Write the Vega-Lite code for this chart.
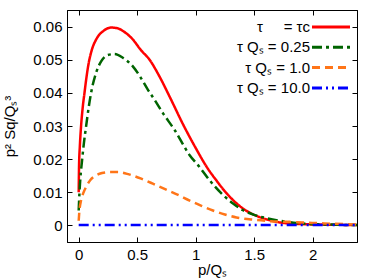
{
  "$schema": "https://vega.github.io/schema/vega-lite/v6.json",
  "width": 290,
  "height": 232,
  "autosize": {"type": "none"},
  "padding": {"left": 67, "top": 10, "right": 17, "bottom": 38},
  "config": {
    "font": "Liberation Sans",
    "view": {"stroke": "#000", "strokeWidth": 1},
    "axis": {"domainColor": "#000", "tickColor": "#000", "labelColor": "#000", "titleColor": "#000", "labelFont": "Liberation Sans", "titleFont": "Liberation Sans", "labelFontSize": 15, "titleFontSize": 15, "titleFontWeight": "normal", "grid": false, "tickSize": -5, "labelPadding": 10},
    "legend": {"title": null, "orient": "none", "legendX": 253, "legendY": 6, "symbolType": "M-2,0H2", "symbolSize": 361, "symbolStrokeWidth": 3, "labelAlign": "right", "labelOffset": -32, "rowPadding": 1.3, "labelFontSize": 15, "labelFont": "Liberation Sans", "labelColor": "#000", "labelLimit": 300, "padding": 0}
  },
  "datasets": {
    "curves": [
      {"p": 0, "v": 0.010, "s": "a"},
      {"p": 0.003, "v": 0.018, "s": "a"},
      {"p": 0.01, "v": 0.024, "s": "a"},
      {"p": 0.02, "v": 0.0298, "s": "a"},
      {"p": 0.035, "v": 0.0358, "s": "a"},
      {"p": 0.05, "v": 0.0401, "s": "a"},
      {"p": 0.065, "v": 0.0443, "s": "a"},
      {"p": 0.083, "v": 0.0485, "s": "a"},
      {"p": 0.111, "v": 0.0528, "s": "a"},
      {"p": 0.154, "v": 0.0564, "s": "a"},
      {"p": 0.212, "v": 0.0587, "s": "a"},
      {"p": 0.25, "v": 0.0595, "s": "a"},
      {"p": 0.283, "v": 0.0597, "s": "a"},
      {"p": 0.33, "v": 0.0595, "s": "a"},
      {"p": 0.39, "v": 0.0584, "s": "a"},
      {"p": 0.463, "v": 0.0561, "s": "a"},
      {"p": 0.53, "v": 0.053, "s": "a"},
      {"p": 0.606, "v": 0.050, "s": "a"},
      {"p": 0.69, "v": 0.045, "s": "a"},
      {"p": 0.777, "v": 0.0389, "s": "a"},
      {"p": 0.891, "v": 0.0306, "s": "a"},
      {"p": 1.0, "v": 0.0234, "s": "a"},
      {"p": 1.105, "v": 0.0171, "s": "a"},
      {"p": 1.177, "v": 0.0136, "s": "a"},
      {"p": 1.25, "v": 0.0103, "s": "a"},
      {"p": 1.349, "v": 0.0067, "s": "a"},
      {"p": 1.43, "v": 0.0045, "s": "a"},
      {"p": 1.52, "v": 0.0029, "s": "a"},
      {"p": 1.62, "v": 0.0017, "s": "a"},
      {"p": 1.72, "v": 0.0009, "s": "a"},
      {"p": 1.85, "v": 0.0005, "s": "a"},
      {"p": 2.0, "v": 0.0003, "s": "a"},
      {"p": 2.2, "v": 0.0002, "s": "a"},
      {"p": 2.4, "v": 0.0001, "s": "a"},

      {"p": 0, "v": 0.0045, "s": "b"},
      {"p": 0.006, "v": 0.0095, "s": "b"},
      {"p": 0.015, "v": 0.0145, "s": "b"},
      {"p": 0.029, "v": 0.0197, "s": "b"},
      {"p": 0.045, "v": 0.025, "s": "b"},
      {"p": 0.063, "v": 0.0298, "s": "b"},
      {"p": 0.085, "v": 0.0355, "s": "b"},
      {"p": 0.106, "v": 0.040, "s": "b"},
      {"p": 0.15, "v": 0.0462, "s": "b"},
      {"p": 0.192, "v": 0.0495, "s": "b"},
      {"p": 0.249, "v": 0.0514, "s": "b"},
      {"p": 0.306, "v": 0.0517, "s": "b"},
      {"p": 0.377, "v": 0.0506, "s": "b"},
      {"p": 0.463, "v": 0.048, "s": "b"},
      {"p": 0.52, "v": 0.0452, "s": "b"},
      {"p": 0.591, "v": 0.041, "s": "b"},
      {"p": 0.649, "v": 0.0379, "s": "b"},
      {"p": 0.72, "v": 0.0339, "s": "b"},
      {"p": 0.82, "v": 0.0288, "s": "b"},
      {"p": 0.949, "v": 0.0212, "s": "b"},
      {"p": 1.034, "v": 0.0176, "s": "b"},
      {"p": 1.12, "v": 0.0136, "s": "b"},
      {"p": 1.234, "v": 0.0092, "s": "b"},
      {"p": 1.32, "v": 0.0066, "s": "b"},
      {"p": 1.405, "v": 0.0046, "s": "b"},
      {"p": 1.5, "v": 0.0032, "s": "b"},
      {"p": 1.606, "v": 0.0022, "s": "b"},
      {"p": 1.777, "v": 0.0011, "s": "b"},
      {"p": 1.9, "v": 0.0006, "s": "b"},
      {"p": 2.1, "v": 0.0003, "s": "b"},
      {"p": 2.4, "v": 0.0001, "s": "b"},

      {"p": 0, "v": 0.0014, "s": "c"},
      {"p": 0.005, "v": 0.004, "s": "c"},
      {"p": 0.02, "v": 0.0075, "s": "c"},
      {"p": 0.04, "v": 0.0098, "s": "c"},
      {"p": 0.063, "v": 0.0116, "s": "c"},
      {"p": 0.1, "v": 0.0137, "s": "c"},
      {"p": 0.149, "v": 0.0151, "s": "c"},
      {"p": 0.2, "v": 0.0158, "s": "c"},
      {"p": 0.263, "v": 0.0161, "s": "c"},
      {"p": 0.334, "v": 0.0161, "s": "c"},
      {"p": 0.43, "v": 0.0154, "s": "c"},
      {"p": 0.535, "v": 0.0141, "s": "c"},
      {"p": 0.634, "v": 0.0126, "s": "c"},
      {"p": 0.734, "v": 0.011, "s": "c"},
      {"p": 0.85, "v": 0.0092, "s": "c"},
      {"p": 0.949, "v": 0.0075, "s": "c"},
      {"p": 1.05, "v": 0.0059, "s": "c"},
      {"p": 1.148, "v": 0.0045, "s": "c"},
      {"p": 1.25, "v": 0.0033, "s": "c"},
      {"p": 1.349, "v": 0.0024, "s": "c"},
      {"p": 1.5, "v": 0.0017, "s": "c"},
      {"p": 1.634, "v": 0.0013, "s": "c"},
      {"p": 1.78, "v": 0.0011, "s": "c"},
      {"p": 1.917, "v": 0.0009, "s": "c"},
      {"p": 2.1, "v": 0.0006, "s": "c"},
      {"p": 2.26, "v": 0.0004, "s": "c"},
      {"p": 2.4, "v": 0.0003, "s": "c"},

      {"p": 0, "v": 0.0001, "s": "d"},
      {"p": 0.5, "v": 0.0001, "s": "d"},
      {"p": 1.0, "v": 0.0001, "s": "d"},
      {"p": 1.5, "v": 0.0001, "s": "d"},
      {"p": 2.0, "v": 0.0001, "s": "d"},
      {"p": 2.4, "v": 0.0001, "s": "d"}
    ]
  },
  "data": {"name": "curves"},
  "layer": [
    {
      "mark": {"type": "line", "clip": true, "strokeWidth": 2.5, "interpolate": "monotone"},
      "encoding": {
        "x": {"field": "p", "type": "quantitative", "scale": {"domain": [-0.1, 2.38], "nice": false, "zero": false},
              "axis": {"orient": "bottom", "values": [0, 0.5, 1, 1.5, 2], "format": "~g", "title": "p/Qₛ", "titlePadding": 0}},
        "y": {"field": "v", "type": "quantitative", "scale": {"domain": [-0.005, 0.065], "nice": false, "zero": false},
              "axis": {"orient": "left", "values": [0, 0.01, 0.02, 0.03, 0.04, 0.05, 0.06], "format": "~g", "title": "p² Sq/Qₛ³", "titlePadding": 15}},
        "color": {"field": "s", "type": "nominal",
                  "scale": {"domain": ["a", "b", "c", "d"], "range": ["#ff0000", "#006400", "#ff7518", "#0000ff"]},
                  "legend": {"labelExpr": "datum.label == 'a' ? 'τ\u00a0\u00a0\u00a0\u00a0\u00a0= τc' : datum.label == 'b' ? 'τ Qₛ = 0.25' : datum.label == 'c' ? 'τ Qₛ = 1.0' : 'τ Qₛ = 10.0'"}},
        "strokeDash": {"field": "s", "type": "nominal",
                  "scale": {"domain": ["a", "b", "c", "d"], "range": [[1, 0], [10, 4, 3, 4], [8, 5], [10, 4, 2, 4, 2, 4]]},
                  "legend": {"labelExpr": "datum.label == 'a' ? 'τ\u00a0\u00a0\u00a0\u00a0\u00a0= τc' : datum.label == 'b' ? 'τ Qₛ = 0.25' : datum.label == 'c' ? 'τ Qₛ = 1.0' : 'τ Qₛ = 10.0'"}}
      }
    },
    {
      "mark": {"type": "point", "opacity": 0},
      "encoding": {
        "x": {"field": "p", "type": "quantitative", "axis": {"orient": "top", "values": [0, 0.5, 1, 1.5, 2], "labels": false, "title": null}},
        "y": {"field": "v", "type": "quantitative", "axis": {"orient": "right", "values": [0, 0.01, 0.02, 0.03, 0.04, 0.05, 0.06], "labels": false, "title": null}}
      }
    }
  ],
  "resolve": {"axis": {"x": "independent", "y": "independent"}}
}
